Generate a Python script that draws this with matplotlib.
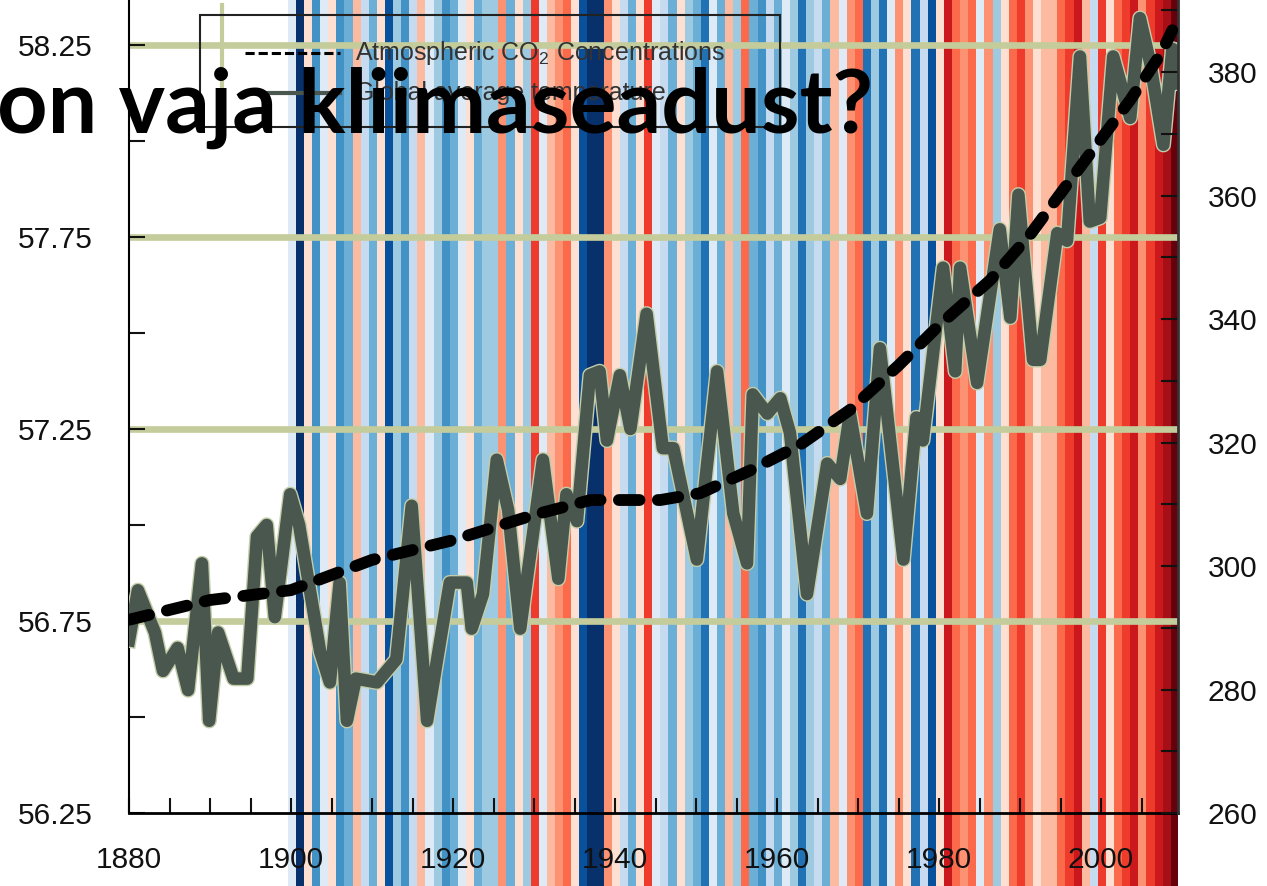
import numpy as np
import matplotlib.pyplot as plt
import matplotlib.patheffects as pe
from matplotlib.lines import Line2D
from matplotlib.patches import Rectangle

plt.rcParams['font.family'] = ['Liberation Sans', 'DejaVu Sans']
plt.rcParams['mathtext.fontset'] = 'custom'
plt.rcParams['mathtext.rm'] = 'Liberation Sans'

# global average temperature (F), vertices
temp_years = [1880, 1881.1, 1883.2, 1884.2, 1886, 1887.3, 1889, 1889.9, 1891, 1892.9,
              1894.6, 1895.8, 1897, 1898, 1899.9, 1901, 1903.6, 1904.8, 1906, 1906.9,
              1908, 1910.6, 1913, 1914.9, 1916.8, 1919.6, 1921.7, 1922.3, 1923.7, 1925.4,
              1926.8, 1928.3, 1931.1, 1933, 1934, 1935.3, 1936.9, 1938.1, 1939, 1940.6,
              1941.9, 1943.9, 1945.9, 1947.2, 1950.1, 1952.6, 1954.6, 1956.3, 1957, 1958.8,
              1960.4, 1961.6, 1963.7, 1966.2, 1967.8, 1969, 1971.1, 1972.7, 1975.6, 1977.2,
              1978, 1980.5, 1982, 1982.6, 1984.7, 1987.5, 1988.8, 1989.8, 1991.6, 1992.5,
              1994.6, 1995.8, 1997.4, 1998.6, 1999.9, 2001.5, 2003.6, 2004.8, 2006.1, 2007.7,
              2008.8, 2009.4]
temp_values = [56.70, 56.83, 56.72, 56.62, 56.68, 56.57, 56.90, 56.49, 56.72, 56.60,
               56.60, 56.97, 57.00, 56.76, 57.08, 57.00, 56.67, 56.59, 56.85, 56.49,
               56.60, 56.59, 56.65, 57.05, 56.49, 56.85, 56.85, 56.73, 56.82, 57.17,
               57.04, 56.73, 57.17, 56.86, 57.08, 57.01, 57.39, 57.40, 57.22, 57.39,
               57.25, 57.55, 57.20, 57.20, 56.91, 57.40, 57.03, 56.90, 57.34, 57.29,
               57.33, 57.24, 56.82, 57.16, 57.12, 57.29, 57.03, 57.46, 56.91, 57.28,
               57.22, 57.67, 57.40, 57.67, 57.37, 57.77, 57.54, 57.86, 57.43, 57.43,
               57.76, 57.74, 58.22, 57.79, 57.80, 58.22, 58.06, 58.32, 58.20, 57.99,
               58.24, 58.15]

# atmospheric CO2 (ppm)
co2_years = [1880, 1890, 1900, 1910, 1920, 1930, 1937, 1945.6, 1950.5, 1956.7, 1962.8,
             1969, 1975, 1980, 1986.3, 1991.2, 1996.2, 1999.9, 2003.6, 2007.3, 2008.8]
co2_values = [291.3, 294.5, 296.1, 301.0, 304.2, 308.3, 310.7, 310.7, 311.8, 315.5, 319.6,
              325.3, 332.5, 339.0, 346.3, 353.6, 362.5, 369.0, 375.5, 382.8, 386.8]

# warming stripes behind the chart, one per year
stripe_years = list(range(1900, 2010))
stripe_colors = [
    # 1900-1936
    '#deebf7', '#08306b', '#fee0d2', '#4292c6', '#deebf7', '#fee0d2', '#4292c6', '#6baed6',
    '#fcbba1', '#c6dbef', '#6baed6', '#fee0d2', '#08519c', '#9ecae1', '#4292c6', '#c6dbef',
    '#fcbba1', '#deebf7', '#9ecae1', '#4292c6', '#6baed6', '#deebf7', '#fee0d2', '#6baed6',
    '#9ecae1', '#9ecae1', '#fc9272', '#6baed6', '#fee0d2', '#9ecae1', '#ef3b2c', '#deebf7',
    '#fcbba1', '#fc9272', '#fb6a4a', '#fee0d2', '#08519c',
    # 1937-1973
    '#08306b', '#08306b', '#fc9272', '#fee0d2', '#c6dbef', '#6baed6', '#fee0d2', '#ef3b2c',
    '#deebf7', '#c6dbef', '#6baed6', '#fee0d2', '#9ecae1', '#6baed6', '#2171b5', '#deebf7',
    '#6baed6', '#fcbba1', '#9ecae1', '#fb6a4a', '#6baed6', '#4292c6', '#c6dbef', '#6baed6',
    '#deebf7', '#9ecae1', '#2171b5', '#9ecae1', '#c6dbef', '#6baed6', '#fcbba1', '#deebf7',
    '#fc9272', '#fb6a4a', '#2171b5', '#9ecae1', '#2171b5',
    # 1974-2009
    '#deebf7', '#fc9272', '#fee0d2', '#2171b5', '#c6dbef', '#08519c', '#fee0d2', '#cb181d',
    '#fb6a4a', '#fc9272', '#fb6a4a', '#deebf7', '#fc9272', '#9ecae1', '#fee0d2', '#fb6a4a',
    '#ef3b2c', '#fc9272', '#fee0d2', '#fcbba1', '#fcbba1', '#fb6a4a', '#ef3b2c', '#cb181d',
    '#fcbba1', '#c6dbef', '#ef3b2c', '#fee0d2', '#fb6a4a', '#ef3b2c', '#cb181d', '#fc9272',
    '#ef3b2c', '#cb181d', '#a50f15', '#67000d',
]

W, H = 1267, 886
khaki = '#c5cc9c'
line_gray = '#4a574e'

fig = plt.figure(figsize=(W / 100, H / 100), dpi=100)
left, right, bottom = 129 / W, 1178 / W, 1 - 813 / H
xlim = (1880, 2009.5)

# stripes span the full figure height
ax_bg = fig.add_axes([left, 0, right - left, 1], zorder=0)
ax_bg.set_xlim(xlim)
ax_bg.set_ylim(0, 1)
ax_bg.bar(np.array(stripe_years) - 0.4, 1, width=1.0, align='edge', color=stripe_colors,
          linewidth=0)
ax_bg.axis('off')

ax = fig.add_axes([left, bottom, right - left, 1 - bottom], zorder=1)
ax.patch.set_alpha(0)
ax.set_xlim(xlim)
ax.set_ylim(56.25, 58.367)

for v in [56.75, 57.25, 57.75, 58.25]:
    ax.axhline(v, color=khaki, lw=4.8, zorder=1)

ax.plot(temp_years, temp_values, color=line_gray, lw=9, zorder=3,
        path_effects=[pe.Stroke(linewidth=11, foreground='#c3cdaa'), pe.Normal()])

ax.set_yticks(np.arange(56.25, 58.26, 0.5))
ax.set_yticklabels(['%.2f' % v for v in np.arange(56.25, 58.26, 0.5)])
ax.set_yticks(np.arange(56.5, 58.3, 0.5), minor=True)
ax.set_xticks(range(1880, 2001, 20))
ax.set_xticks(range(1885, 2010, 5), minor=True)
ax.tick_params(axis='y', which='both', direction='in', length=11.5, width=1.5,
               labelsize=21.5, pad=26, colors='#111111')
ax.tick_params(axis='x', which='both', direction='in', length=11, width=1.5,
               labelsize=21.5, pad=24, colors='#111111')
ax.spines['top'].set_visible(False)
ax.spines['right'].set_visible(False)
ax.spines['left'].set_linewidth(1.5)
ax.spines['bottom'].set_linewidth(2)

ax2 = ax.twinx()
ax2.set_ylim(260, 391.7)
ax2.plot(co2_years, co2_values, color='black', lw=8.5, linestyle=(0, (1.75, 1.55)),
         dash_capstyle='round', zorder=4)
ax2.set_yticks(range(260, 381, 20))
ax2.set_yticks(range(270, 391, 20), minor=True)
ax2.tick_params(axis='y', which='both', direction='in', length=12, width=1.5,
                labelsize=21.5, pad=21.6, colors='#111111')
for s in ['top', 'left', 'bottom']:
    ax2.spines[s].set_visible(False)
ax2.spines['right'].set_linewidth(2)
ax2.spines['right'].set_color('#333333')

# legend box (drawn by hand to sit where the original one is)
def fx(px):
    return px / W

def fy(py):
    return 1 - py / H

fig.add_artist(Line2D([fx(222), fx(222)], [fy(5), fy(95)], color=khaki, lw=3, zorder=5))
fig.add_artist(Rectangle((fx(200), fy(127)), fx(780) - fx(200), fy(15) - fy(127),
                         fill=False, edgecolor='#222222', lw=1.5, zorder=5))
fig.add_artist(Line2D([fx(245), fx(340)], [fy(53), fy(53)], color='black', lw=2.2,
                      linestyle=(0, (3, 1.3)), zorder=5))
fig.text(fx(355), fy(53), 'Atmospheric CO$_2$ Concentrations', fontsize=18,
         color='#333333', va='center', ha='left', zorder=5)
fig.add_artist(Line2D([fx(245), fx(340)], [fy(93), fy(93)], color=line_gray, lw=3, zorder=5))
fig.text(fx(355), fy(93), 'Global average temperature', fontsize=18,
         color='#333333', va='center', ha='left', zorder=5)

# slide title over the chart, cut at the left edge
title = fig.text(-3 / W, fy(133), 'on vaja kliimaseadust?', family=['Lato', 'DejaVu Sans'],
                 fontweight='bold', fontsize=60, color='black', ha='left', va='baseline',
                 zorder=10)
renderer = fig.canvas.get_renderer()
tw = title.get_window_extent(renderer).width
title.set_fontsize(60 * 875 / tw)

fig.savefig('out.png', dpi=100)
